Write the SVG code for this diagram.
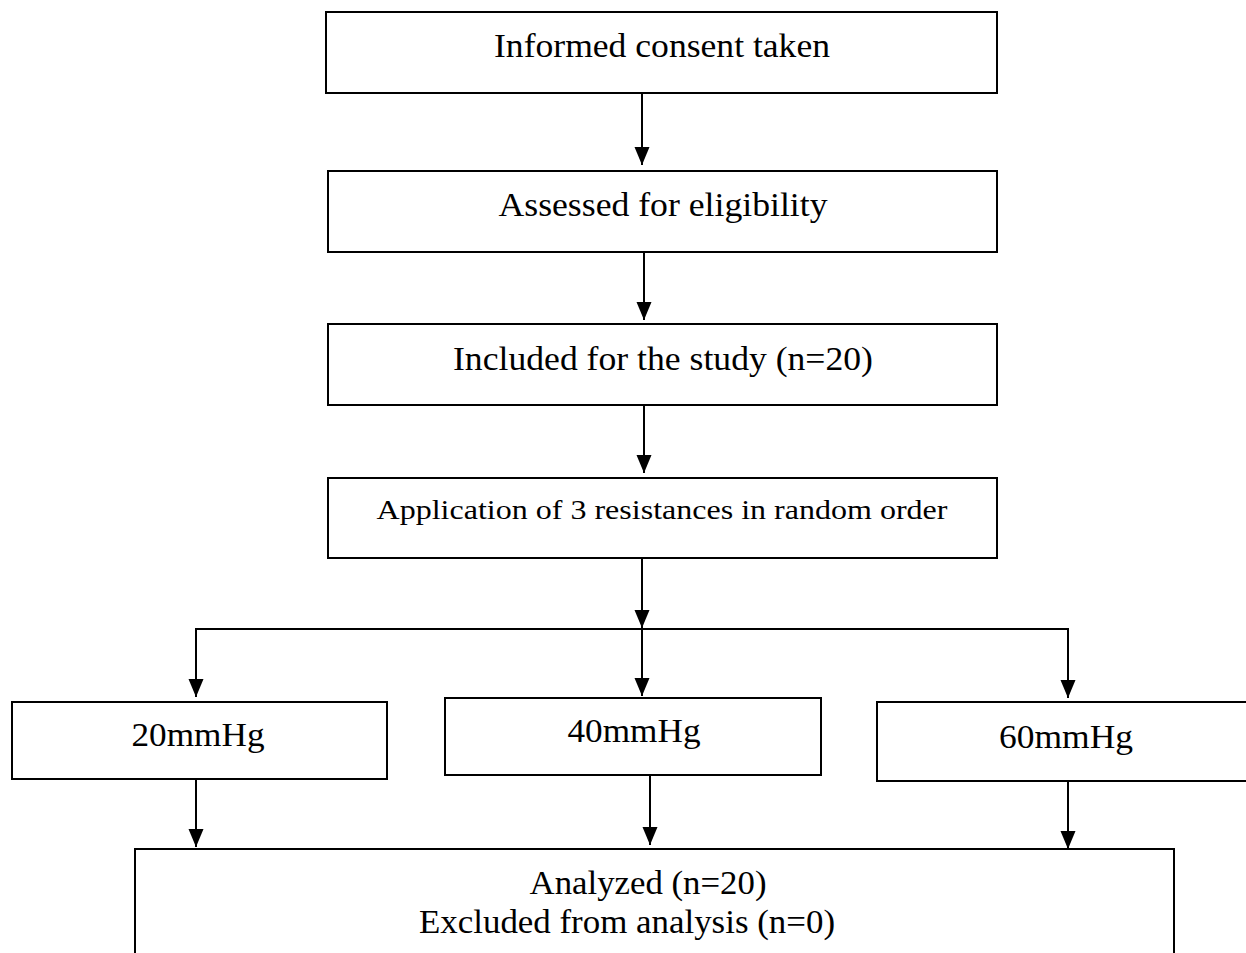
<svg xmlns="http://www.w3.org/2000/svg" width="1246" height="953" viewBox="0 0 1246 953">
<style>
.box{fill:#fff;stroke:#000;stroke-width:2}
.t{font-family:"Liberation Serif","DejaVu Serif",serif;font-size:34px;fill:#000;text-anchor:middle}
.s{font-size:28px}
.c{stroke:#000;stroke-width:2;fill:none}
</style>
<defs>
<marker id="ah" markerUnits="userSpaceOnUse" markerWidth="18" markerHeight="16" refX="18" refY="7.5" orient="auto">
<path d="M0,0 L18,7.5 L0,15 z" fill="#000"/>
</marker>
</defs>
<rect width="1246" height="953" fill="#fff"/>
<g id="connectors">
<line class="c" x1="642" y1="93" x2="642" y2="165" marker-end="url(#ah)"/>
<line class="c" x1="644" y1="252" x2="644" y2="320" marker-end="url(#ah)"/>
<line class="c" x1="644" y1="405" x2="644" y2="473" marker-end="url(#ah)"/>
<line class="c" x1="642" y1="558" x2="642" y2="628" marker-end="url(#ah)"/>
<polyline class="c" points="196,697 196,629 1068,629 1068,697"/>
<line class="c" x1="196" y1="629" x2="196" y2="697" marker-end="url(#ah)"/>
<line class="c" x1="642" y1="629" x2="642" y2="696" marker-end="url(#ah)"/>
<line class="c" x1="1068" y1="629" x2="1068" y2="698" marker-end="url(#ah)"/>
<line class="c" x1="196" y1="779" x2="196" y2="847" marker-end="url(#ah)"/>
<line class="c" x1="650" y1="775" x2="650" y2="845" marker-end="url(#ah)"/>
<line class="c" x1="1068" y1="781" x2="1068" y2="849" marker-end="url(#ah)"/>
</g>
<g id="n1"><rect class="box" x="326" y="12" width="671" height="81"/><text class="t" x="662" y="57" textLength="336" lengthAdjust="spacingAndGlyphs">Informed consent taken</text></g>
<g id="n2"><rect class="box" x="328" y="171" width="669" height="81"/><text class="t" x="663" y="216" textLength="329" lengthAdjust="spacingAndGlyphs">Assessed for eligibility</text></g>
<g id="n3"><rect class="box" x="328" y="324" width="669" height="81"/><text class="t" x="663" y="370" textLength="420" lengthAdjust="spacingAndGlyphs">Included for the study (n=20)</text></g>
<g id="n4"><rect class="box" x="328" y="478" width="669" height="80"/><text class="t s" x="662" y="519" textLength="571" lengthAdjust="spacingAndGlyphs">Application of 3 resistances in random order</text></g>
<g id="n5"><rect class="box" x="12" y="702" width="375" height="77"/><text class="t" x="198" y="746" textLength="133" lengthAdjust="spacingAndGlyphs">20mmHg</text></g>
<g id="n6"><rect class="box" x="445" y="698" width="376" height="77"/><text class="t" x="634" y="742" textLength="133" lengthAdjust="spacingAndGlyphs">40mmHg</text></g>
<g id="n7"><rect class="box" x="877" y="702" width="375" height="79"/><text class="t" x="1066" y="748" textLength="134" lengthAdjust="spacingAndGlyphs">60mmHg</text></g>
<g id="n8"><rect class="box" x="135" y="849" width="1039" height="130"/><text class="t" x="648" y="894" textLength="237" lengthAdjust="spacingAndGlyphs">Analyzed (n=20)</text><text class="t" x="627" y="933" textLength="416" lengthAdjust="spacingAndGlyphs">Excluded from analysis (n=0)</text></g>
</svg>
